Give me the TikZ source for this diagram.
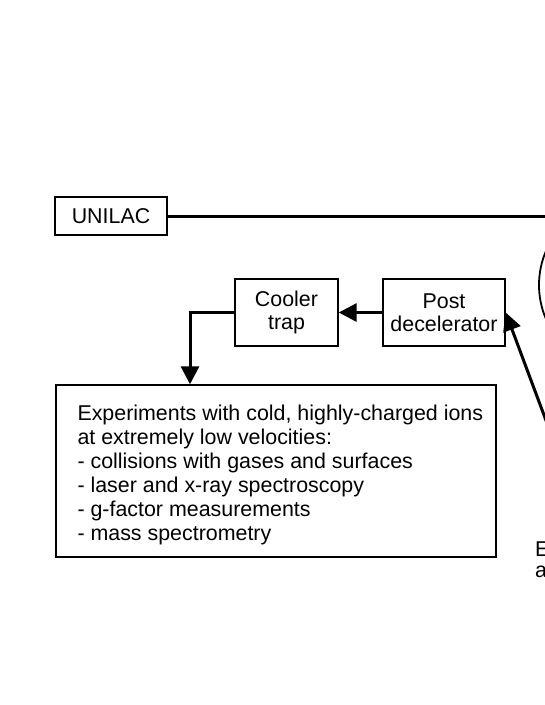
\documentclass[tikz,border=0pt]{standalone}
\usepackage{fontspec}
\setmainfont{Liberation Sans}
\usetikzlibrary{arrows.meta,positioning,calc}
\tikzset{
  bloco/.style={draw=black, line width=1.4pt, fill=white, align=center,
                inner sep=0pt, font=\fontsize{21.4}{23.5}\selectfont},
  linha/.style={line width=3pt, black},
  seta/.style={linha, -{Triangle[length=18pt,width=18pt]}},
  rotulo/.style={font=\fontsize{21.4}{24}\selectfont, inner sep=0pt, align=left},
}

\begin{document}
\begin{tikzpicture}[x=1pt, y=-1pt]
  \useasboundingbox (0,0) rectangle (545,705);
  \clip (0,0) rectangle (545,705);

  % Blocos
  \node[bloco, minimum width=112pt, minimum height=38pt] (unilac) at (111,216) {UNILAC};
  \node[bloco, minimum width=103pt, minimum height=67pt] (cooler) at (286.5,312.5) {Cooler\\trap};
  \node[bloco, minimum width=122pt, minimum height=67pt] (post) at (444,312.5) {Post\\decelerator};
  \node[bloco, minimum width=440pt, minimum height=172pt] (exp) at (276,471) {};
  \node[rotulo, anchor=north west] (exptxt) at ([shift={(22pt,-20pt)}]exp.north west)
    {Experiments with cold, highly-charged ions\\
     at extremely low velocities:\\
     - collisions with gases and surfaces\\
     - laser and x-ray spectroscopy\\
     - g-factor measurements\\
     - mass spectrometry};

  % Anel (cortado na borda)
  \draw[line width=1.8pt] (625,285) circle (86pt);
  \node[rotulo, anchor=base west] (etxt) at (535,556) {E};
  \node[rotulo, anchor=base west] (atxt) at (535,577) {a};

  % Ligacoes
  \coordinate (fimunilac) at (600,216);
  \coordinate (origem) at (561.5,462);
  \coordinate (canto) at (190,312.5);
  \draw[linha] (unilac.east) -- (fimunilac);
  \draw[seta] (origem) -- (post.east);
  \draw[seta] (post.west) -- (cooler.east);
  \draw[seta] (cooler.west) -- (canto) -- (canto |- exp.north);
\end{tikzpicture}
\end{document}
